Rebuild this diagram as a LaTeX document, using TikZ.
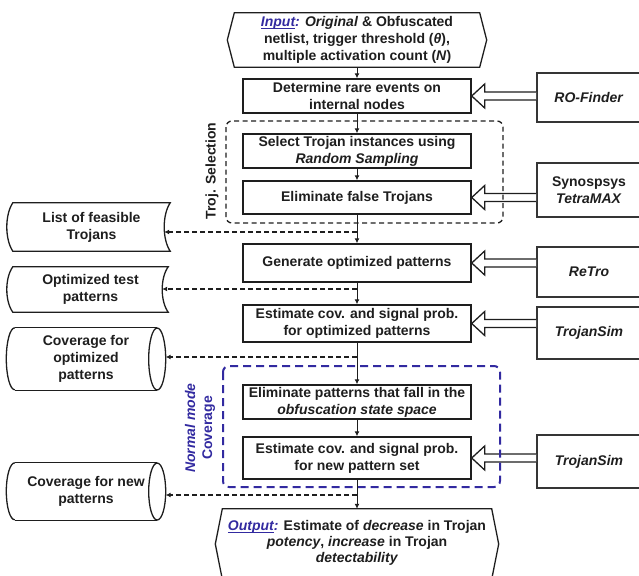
\documentclass[tikz,border=0pt]{standalone}
\usepackage{fontspec}
\setmainfont{Liberation Sans}
\usetikzlibrary{calc,arrows.meta}
\definecolor{navy}{RGB}{50,42,160}
\definecolor{ink}{RGB}{30,30,30}

% underline kept close to the baseline
\newcommand{\uline}[1]{\setbox0\hbox{#1}\rlap{\rule[-1.8pt]{\wd0}{0.8pt}}\box0}

% hollow (double-line) arrow from a tool box to a step box
\newcommand{\hollowarrow}[2]{%
  \draw[hollow] ($(#1.west |- #2.east)+(0,-4)$) -- ($(#2.east)+(13,-4)$)
    -- ($(#2.east)+(13,-12)$) -- (#2.east) -- ($(#2.east)+(13,12)$)
    -- ($(#2.east)+(13,4)$) -- ($(#1.west |- #2.east)+(0,4)$);}

\begin{document}
\begin{tikzpicture}[x=1pt,y=-1pt,
  txt/.style={font=\bfseries\fontsize{14}{17}\selectfont, align=center, text=ink},
  stepbox/.style={txt, draw=ink, line width=1.4pt, minimum width=228pt, inner sep=0pt},
  toolbox/.style={txt, draw=ink!90, line width=1.7pt, minimum width=104pt, inner sep=0pt},
  ioshape/.style={txt, inner sep=0pt},
  store/.style={txt, inner sep=0pt},
  flow/.style={draw=ink, line width=1pt, -{Latex[length=5pt,width=5pt]}},
  branch/.style={draw=ink, line width=1.1pt, dash pattern=on 5pt off 3pt, -{Latex[length=5pt,width=5pt]}},
  hollow/.style={draw=ink, line width=1.3pt, fill=white, line join=miter},
  outline/.style={draw=ink, line width=1.3pt},
]
\useasboundingbox (0,0) rectangle (639,575);

% ---------- input / output ----------
\node[ioshape, minimum width=259pt, minimum height=54pt] (in) at (357,40)
  {{\color{navy}\itshape\uline{Input}:} \textit{Original} \& Obfuscated\\
   netlist, trigger threshold (\textit{θ}),\\
   multiple activation count (\textit{N})};
\draw[outline] ($(in.north west)+(7,0)$) -- ($(in.north east)+(-7,0)$) -- (in.east)
  -- ($(in.south east)+(-7,0)$) -- ($(in.south west)+(7,0)$) -- (in.west) -- cycle;

\node[ioshape, minimum width=283pt, minimum height=70pt] (out) at (357,544) {};
\node[txt, font=\bfseries\fontsize{14}{16}\selectfont, anchor=north] (outtxt) at (357,517)
  {{\color{navy}\itshape\uline{Output}:} Estimate of \textit{decrease} in Trojan\\
   \textit{potency}, \textit{increase} in Trojan\\
   \textit{detectability}};
\draw[outline] ($(out.north west)+(7,0)$) -- ($(out.north east)+(-7,0)$) -- (out.east)
  -- ($(out.south east)+(-7,0)$) -- ($(out.south west)+(7,0)$) -- (out.west) -- cycle;

% ---------- main steps ----------
\node[stepbox, minimum height=34pt] (det)  at (357,96)    {Determine rare events on\\internal nodes};
\node[stepbox, minimum height=34pt] (sel)  at (357,151)   {Select Trojan instances using\\\textit{Random Sampling}};
\node[stepbox, minimum height=33pt] (elim) at (357,197.5) {Eliminate false Trojans};
\node[stepbox, minimum height=38pt] (gen)  at (357,263)   {Generate optimized patterns};
\node[stepbox, minimum height=37pt] (est)  at (357,323.5) {Estimate cov. and signal prob.\\for optimized patterns};
\node[stepbox, minimum height=34pt] (obf)  at (357,402)   {Eliminate patterns that fall in the\\\textit{obfuscation state space}};
\node[stepbox, minimum height=42pt] (estn) at (357,458)   {Estimate cov. and signal prob.\\for new pattern set};

% ---------- tools ----------
\node[toolbox, minimum height=49pt] (ro)    at (589,97.5)  {\textit{RO-Finder}};
\node[toolbox, minimum height=54pt] (syn)   at (589,190)   {Synospsys\\\textit{TetraMAX}};
\node[toolbox, minimum height=50pt] (retro) at (589,272)   {\textit{ReTro}};
\node[toolbox, minimum height=52pt] (tsim)  at (589,333)   {\textit{TrojanSim}};
\node[toolbox, minimum height=53pt] (tsimb) at (589,461.5) {\textit{TrojanSim}};

\hollowarrow{ro}{det}
\hollowarrow{syn}{elim}
\hollowarrow{retro}{gen}
\hollowarrow{tsim}{est}
\hollowarrow{tsimb}{estn}

% ---------- groups ----------
\draw[draw=ink, line width=1.3pt, dash pattern=on 5pt off 3.5pt, rounded corners=6pt]
  (226,121) rectangle (503,223);
\node[txt, rotate=90] (trojlbl) at (212,171) {Troj. Selection};

\draw[draw=navy, line width=2pt, dash pattern=on 8pt off 5pt, rounded corners=6pt]
  (223,366) rectangle (500,487);
\node[txt, rotate=90, text=navy] (nmlbl) at (200,428) {\textit{Normal mode}\\Coverage};

% ---------- stored results ----------
\node[store, minimum width=157pt, minimum height=48pt] (list) at (91.5,227) {List of feasible\\Trojans};
\draw[outline] (list.north west) -- (list.north east)
  .. controls ($(list.north east)+(-8,12)$) and ($(list.south east)+(-8,-12)$) .. (list.south east)
  -- (list.south west)
  .. controls ($(list.south west)+(-8,-12)$) and ($(list.north west)+(-8,12)$) .. cycle;

\node[store, minimum width=155pt, minimum height=45pt] (opt) at (90.5,289.5) {Optimized test\\patterns};
\draw[outline] (opt.north west) -- (opt.north east)
  .. controls ($(opt.north east)+(-8,11)$) and ($(opt.south east)+(-8,-11)$) .. (opt.south east)
  -- (opt.south west)
  .. controls ($(opt.south west)+(-8,-11)$) and ($(opt.north west)+(-8,11)$) .. cycle;

\node[store, minimum width=142pt, minimum height=62pt] (cova) at (86,359) {Coverage for\\optimized\\patterns};
\draw[outline] (cova.north west) -- (cova.north east) (cova.south west) -- (cova.south east);
\draw[outline] (cova.east) ellipse [x radius=8.5pt, y radius=31pt];
\draw[outline] (cova.north west) arc [start angle=90, end angle=270, x radius=8.5pt, y radius=31pt];

\node[store, minimum width=142pt, minimum height=57pt] (covb) at (86,491.5) {Coverage for new\\patterns};
\draw[outline] (covb.north west) -- (covb.north east) (covb.south west) -- (covb.south east);
\draw[outline] (covb.east) ellipse [x radius=8.5pt, y radius=28.5pt];
\draw[outline] (covb.north west) arc [start angle=90, end angle=270, x radius=8.5pt, y radius=28.5pt];

% ---------- main flow ----------
\draw[flow] (in.south) -- (det.north);
\draw[flow] (det.south) -- (sel.north);
\draw[flow] (sel.south) -- (elim.north);
\draw[flow] (elim.south) -- (gen.north);
\draw[flow] (gen.south) -- (est.north);
\draw[flow] (est.south) -- (obf.north);
\draw[flow] (obf.south) -- (estn.north);
\draw[flow] (estn.south) -- (out.north);

% ---------- branches to stored results ----------
\coordinate (b1) at (357,232);
\coordinate (b2) at (357,289);
\coordinate (b3) at (357,357);
\coordinate (b4) at (357,495);
\coordinate (listtip) at ($(list.east)+(-6,0)$);
\coordinate (opttip)  at ($(opt.east)+(-6,0)$);
\coordinate (covatip) at ($(cova.east)+(8.5,0)$);
\coordinate (covbtip) at ($(covb.east)+(8.5,0)$);
\draw[branch] (b1) -- (b1 -| listtip);
\draw[branch] (b2) -- (b2 -| opttip);
\draw[branch] (b3) -- (b3 -| covatip);
\draw[branch] (b4) -- (b4 -| covbtip);
\end{tikzpicture}
\end{document}
